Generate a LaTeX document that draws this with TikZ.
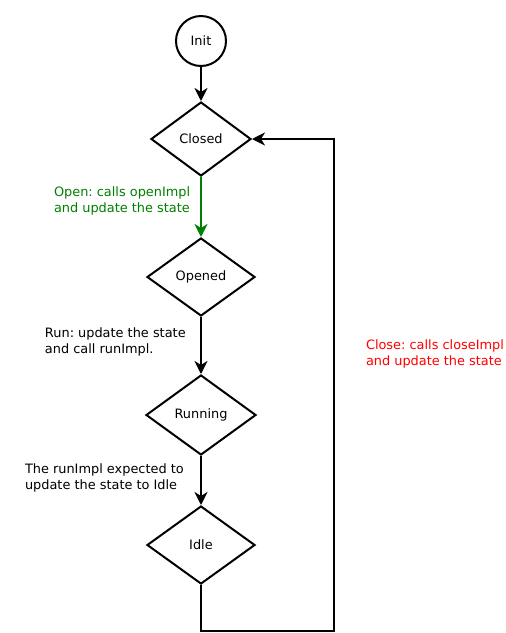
\documentclass[tikz,border=0pt]{standalone}
\usepackage{fontspec}
\setmainfont{DejaVu Sans}
\frenchspacing
\usetikzlibrary{shapes.geometric,arrows.meta}
\definecolor{opengreen}{RGB}{0,128,0}
\definecolor{closered}{RGB}{255,0,0}
\tikzset{every node/.style={align=center}, >={Stealth[length=13pt,width=13pt,inset=4pt]}, font=\fontsize{12.9}{15.8}\selectfont}

\begin{document}
\begin{tikzpicture}[x=1pt,y=-1pt,line width=2pt]
            \useasboundingbox (0,0) rectangle (506,633);
            \node [circle,draw,minimum size=50pt] (init) at (201,41) {Init};
            \node [diamond,draw,inner sep=0pt,minimum width=100pt,minimum height=74pt] (closed) [below of = init,node distance=98pt] {Closed};
            \node [diamond,draw,inner sep=0pt,minimum width=108pt,minimum height=78pt] (opened) [below of = closed,node distance=138pt] {Opened};
            \node [diamond,draw,inner sep=0pt,minimum width=110pt,minimum height=80pt] (running) [below of = opened,node distance=138pt] {Running};
            \node [diamond,draw,inner sep=0pt,minimum width=108pt,minimum height=78pt] (idle) [below of = running,node distance=130pt] {Idle};
            \coordinate (back) at (334,631);

            % base anchor sits on the last line
            \node [anchor=base west,align=left,inner sep=0pt,text=opengreen] (openlbl) at (53,212.2) {Open: calls openImpl\\and update the state};
            \node [anchor=base west,align=left,inner sep=0pt] (runlbl) at (44,353.3) {Run: update the state\\and call runImpl.};
            \node [anchor=base west,align=left,inner sep=0pt] (idlelbl) at (24,489.3) {The runImpl expected to\\update the state to Idle};
            \node [anchor=base west,align=left,inner sep=0pt,text=closered] (closelbl) at (365,365.7) {Close: calls closeImpl\\and update the state};

            \path[->] (init) edge (closed)
                (closed) edge [opengreen] (opened)
                (opened) edge (running)
                (running) edge (idle);
            \draw[->] (idle) |- (back) |- (closed);

        \end{tikzpicture}
\end{document}
